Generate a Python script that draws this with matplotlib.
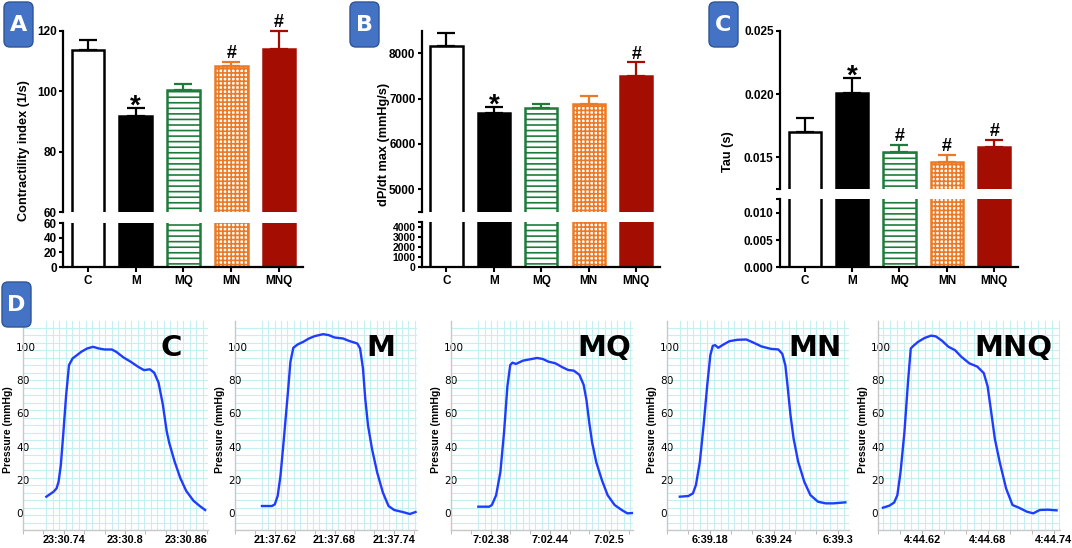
import numpy as np
import matplotlib
matplotlib.use('Agg')
import matplotlib.pyplot as plt
from matplotlib.patches import FancyBboxPatch

plt.rcParams['font.family'] = ['Liberation Sans', 'DejaVu Sans']
plt.rcParams['hatch.linewidth'] = 1.2

W, H = 1072, 548

# ---- data: bar panels ----
groups = ['C', 'M', 'MQ', 'MN', 'MNQ']
contract_mean = [113.5, 91.8, 100.4, 108.2, 114.0]
contract_err = [3.5, 2.6, 1.9, 1.4, 6.0]
dpdt_mean = [8170, 6680, 6795, 6890, 7500]
dpdt_err = [270, 135, 95, 160, 300]
tau_mean = [0.0170, 0.0201, 0.0154, 0.0146, 0.0158]
tau_err = [0.0011, 0.0012, 0.0006, 0.0006, 0.0006]
marks_a = ['', '*', '', '#', '#']
marks_b = ['', '*', '', '', '#']
marks_c = ['', '*', '#', '#', '#']

# ---- data: pressure traces (s within the minute, mmHg) ----
t_c = [0.7229, 0.7300, 0.7329, 0.7349, 0.7371, 0.7394, 0.7423, 0.7451, 0.7486, 0.7529, 0.7571,
       0.7629, 0.7686, 0.7743, 0.7800, 0.7871, 0.7914, 0.7986, 0.8057, 0.8129, 0.8186, 0.8243,
       0.8286, 0.8329, 0.8371, 0.8409, 0.8434, 0.8486, 0.8543, 0.8600, 0.8671, 0.8729, 0.8786]
p_c = [10, 13, 15, 19, 29, 47, 71, 89, 93, 95, 97, 99, 100, 99, 98.4, 98.4, 97, 93.6, 91, 88, 86,
       86.5, 84.5, 78.5, 65.4, 49.3, 42.3, 31.2, 21.1, 13.5, 7.6, 4.6, 2]
t_m = [0.6071, 0.6171, 0.6200, 0.6229, 0.6257, 0.6291, 0.6329, 0.6357, 0.6386, 0.6429, 0.6486,
       0.6543, 0.6600, 0.6686, 0.6743, 0.6800, 0.6886, 0.6943, 0.7029, 0.7057, 0.7086, 0.7109,
       0.7137, 0.7177, 0.7229, 0.7286, 0.7343, 0.7400, 0.7486, 0.7557, 0.7614]
p_m = [4.4, 4.4, 5.4, 10.5, 22.5, 44.7, 70.8, 91, 99.4, 101.4, 103, 105, 106.4, 107.6, 107, 105.6,
       105, 103.6, 102, 99, 87, 68.8, 52.7, 38.6, 24.5, 12.5, 4.4, 2, 0.8, -0.4, 0.8]
t_mq = [0.3677, 0.3786, 0.3814, 0.3857, 0.3900, 0.3937, 0.3971, 0.4000, 0.4023, 0.4057, 0.4129,
        0.4200, 0.4271, 0.4329, 0.4386, 0.4457, 0.4529, 0.4586, 0.4643, 0.4700, 0.4743, 0.4771,
        0.4800, 0.4829, 0.4871, 0.4929, 0.4986, 0.5057, 0.5129, 0.5186, 0.5237]
p_mq = [4, 4, 5, 10.9, 24.8, 48.5, 76.2, 89.1, 90.5, 89.7, 91.7, 92.5, 93.3, 92.7, 91.1, 90.1,
        87.7, 86.1, 85.7, 83.2, 77.2, 68.3, 54.5, 42.6, 30.7, 19.8, 10.9, 5, 2, 0, 0.2]
t_mn = [0.1520, 0.1600, 0.1643, 0.1671, 0.1708, 0.1743, 0.1777, 0.1806, 0.1829, 0.1851, 0.1880,
        0.1929, 0.1986, 0.2057, 0.2143, 0.2200, 0.2286, 0.2371, 0.2443, 0.2480, 0.2509, 0.2529,
        0.2557, 0.2586, 0.2629, 0.2686, 0.2743, 0.2814, 0.2886, 0.2957, 0.3071]
p_mn = [10, 10.4, 12, 17, 31, 53, 77, 95, 100.6, 101, 99.4, 101.4, 103.4, 104.2, 104.4, 102.8,
        100.2, 98.8, 98.4, 95.8, 88.8, 76.8, 58.9, 44.9, 30.9, 19, 11, 7, 6, 6, 6.6]
t_mnq = [0.5845, 0.5903, 0.5947, 0.5976, 0.6005, 0.6040, 0.6072, 0.6098, 0.6122, 0.6165, 0.6223,
         0.6282, 0.6325, 0.6383, 0.6441, 0.6500, 0.6558, 0.6630, 0.6703, 0.6762, 0.6797, 0.6826,
         0.6863, 0.6907, 0.6965, 0.7023, 0.7081, 0.7154, 0.7212, 0.7270, 0.7343, 0.7424]
p_mnq = [3.4, 4.6, 6.5, 10.9, 24.8, 48.5, 78.2, 99, 100.6, 103, 105.3, 106.7, 106.3, 103.6, 100,
         98, 94, 90.1, 88.1, 84.2, 76.2, 62.4, 44.6, 30.7, 14.9, 5, 3.4, 1, 0, 2, 2.2, 1.8]

trace_t = [t_c, t_m, t_mq, t_mn, t_mnq]
trace_p = [p_c, p_m, p_mq, p_mn, p_mnq]
trace_xlim = [(0.7229, 0.8814), (0.6071, 0.7629), (0.3677, 0.5243), (0.1520, 0.3105), (0.5845, 0.7455)]
trace_ticks = [[0.74, 0.80, 0.86], [0.62, 0.68, 0.74], [0.38, 0.44, 0.50],
               [0.18, 0.24, 0.30], [0.62, 0.68, 0.74]]
trace_ticklabels = [['23:30.74', '23:30.8', '23:30.86'],
                    ['21:37.62', '21:37.68', '21:37.74'],
                    ['7:02.38', '7:02.44', '7:02.5'],
                    ['6:39.18', '6:39.24', '6:39.3'],
                    ['4:44.62', '4:44.68', '4:44.74']]

# styles
fills = ['white', 'black', 'white', 'white', '#a30d02']
edges = ['black', 'black', '#1e7b3b', '#ea7a25', '#a30d02']
hatches = [None, None, '---', '++++', None]

fig = plt.figure(figsize=(W / 100, H / 100), dpi=100)


def px_rect(l, t, r, b):
    return [l / W, 1 - b / H, (r - l) / W, (b - t) / H]


def bar_panel(l, r, t, s1, s2, b, ylim_up, ylim_lo, ticks_up, labels_up, ticks_lo, labels_lo,
              means, errs, marks, lo_fs=8.5):
    ax_up = fig.add_axes(px_rect(l, t, r, s1))
    ax_lo = fig.add_axes(px_rect(l, s2, r, b))
    x = np.arange(len(groups))
    for ax in (ax_up, ax_lo):
        for i in range(len(groups)):
            ax.bar(x[i], means[i], width=0.68, color=fills[i], edgecolor=edges[i],
                   hatch=hatches[i], linewidth=1.8)
        ax.set_xlim(-0.52, 4.5)
        for sp in ['top', 'right']:
            ax.spines[sp].set_visible(False)
        ax.spines['left'].set_linewidth(1.6)
        ax.spines['bottom'].set_linewidth(1.6)
        ax.tick_params(axis='y', length=3, width=1.5, pad=1.5, labelsize=8.5)
    ax_up.set_ylim(*ylim_up)
    ax_lo.set_ylim(*ylim_lo)
    ax_up.spines['bottom'].set_visible(False)
    ax_up.set_xticks([])
    ax_up.set_yticks(ticks_up)
    ax_up.set_yticklabels(labels_up, fontweight='bold', fontsize=8.5)
    ax_lo.set_yticks(ticks_lo)
    ax_lo.set_yticklabels(labels_lo, fontweight='bold', fontsize=lo_fs)
    ax_lo.set_xticks(x)
    ax_lo.set_xticklabels(groups, fontweight='bold', fontsize=8.5)
    ax_lo.tick_params(axis='x', length=3.5, width=1.5, pad=2)
    for i in range(len(groups)):
        ax_up.errorbar(x[i], means[i], yerr=[[0], [errs[i]]], fmt='none', ecolor=edges[i],
                       elinewidth=1.6, capsize=6.5, capthick=1.6, clip_on=False)
        if marks[i]:
            fs = 20 if marks[i] == '*' else 13
            off = 1 if marks[i] == '*' else 6
            ax_up.annotate(marks[i], (x[i], means[i] + errs[i]), xytext=(0, off),
                           textcoords='offset points', ha='center', va='center',
                           fontsize=fs, fontweight='bold', annotation_clip=False)
    return ax_up, ax_lo


bar_panel(63, 303, 30.7, 212, 223, 267, (60, 120), (0, 60),
          [60, 80, 100, 120], ['60', '80', '100', '120'],
          [0, 20, 40, 60], ['0', '20', '40', '60'],
          contract_mean, contract_err, marks_a)
bar_panel(421.7, 660, 30.7, 211.7, 221.7, 267, (4500, 8500), (0, 4500),
          [4500, 5000, 6000, 7000, 8000], ['', '5000', '6000', '7000', '8000'],
          [0, 1000, 2000, 3000, 4000, 4500], ['0', '1000', '2000', '3000', '4000', ''],
          dpdt_mean, dpdt_err, marks_b, lo_fs=7.5)
bar_panel(780, 1018, 30.7, 189, 199.3, 267.3, (0.0125, 0.025), (0, 0.0125),
          [0.0125, 0.015, 0.020, 0.025], ['', '0.015', '0.020', '0.025'],
          [0, 0.005, 0.010, 0.0125], ['0.000', '0.005', '0.010', ''],
          tau_mean, tau_err, marks_c)

fig.text(24 / W, 1 - 151 / H, 'Contractility index (1/s)', rotation=90, ha='center', va='center',
         fontsize=9.2, fontweight='bold')
fig.text(384 / W, 1 - 144 / H, 'dP/dt max (mmHg/s)', rotation=90, ha='center', va='center',
         fontsize=9.2, fontweight='bold')
fig.text(728 / W, 1 - 152 / H, 'Tau (s)', rotation=90, ha='center', va='center',
         fontsize=9.2, fontweight='bold')

# ---- panel D: pressure traces ----
d_cols = [(23, 208), (235, 417), (451, 633), (667, 849), (878, 1060)]
name_x = [0.86, 0.88, 0.99, 0.96, 0.96]
for k in range(5):
    l, r = d_cols[k]
    ax = fig.add_axes(px_rect(l, 321, r, 530))
    x0, x1 = trace_xlim[k]
    ax.set_xlim(x0, x1)
    ax.set_ylim(-10, 115.5)
    for gx in np.arange(x0, x1, 0.0064):
        ax.axvline(gx, color='#c4f0f2', lw=0.8, zorder=0)
    for gy in np.arange(-10, 115.5, 4.5):
        ax.axhline(gy, color='#c4f0f2', lw=0.8, zorder=0)
    ax.plot(trace_t[k], trace_p[k], color='#1f3dff', lw=1.7, zorder=3)
    for sp in ['top', 'right']:
        ax.spines[sp].set_visible(False)
    for sp in ['left', 'bottom']:
        ax.spines[sp].set_color('#c8c8c8')
        ax.spines[sp].set_linewidth(1.0)
    ax.set_xticks(trace_ticks[k])
    ax.set_xticklabels(trace_ticklabels[k], fontweight='bold', fontsize=7.8)
    ax.set_xticks(np.arange(trace_ticks[k][0] - 0.04, x1, 0.02), minor=True)
    ax.tick_params(axis='x', which='both', length=3, color='#b0b0b0', pad=0.5)
    ax.set_yticks([0, 20, 40, 60, 80, 100])
    ax.set_yticklabels(['0', '20', '40', '60', '80', '100'], family='DejaVu Sans', fontsize=7.6)
    ax.tick_params(axis='y', length=0, pad=5)
    for lbl in ax.get_yticklabels():
        lbl.set_horizontalalignment('left')
    ax.set_ylabel('Pressure (mmHg)', fontsize=7.5, fontweight='bold')
    ax.yaxis.set_label_coords(-10 / (r - l), 0.48)
    ax.text(name_x[k], 0.87, groups[k], transform=ax.transAxes, ha='right', va='center',
            fontsize=21, fontweight='bold', family='DejaVu Sans')

# ---- panel letter boxes ----
ov = fig.add_axes([0, 0, 1, 1])
ov.set_xlim(0, W)
ov.set_ylim(H, 0)
ov.axis('off')
for letter, bx, by in [('A', 4, 2), ('B', 350, 2), ('C', 709, 2), ('D', 2, 282)]:
    ov.add_patch(FancyBboxPatch((bx, by), 29, 45, boxstyle='round,pad=0,rounding_size=6',
                                facecolor='#4472c4', edgecolor='#2f5597', lw=1))
    ov.text(bx + 14.5, by + 23, letter, color='white', ha='center', va='center',
            fontsize=16, fontweight='bold', family='DejaVu Sans')

fig.savefig('out.png', dpi=100)
